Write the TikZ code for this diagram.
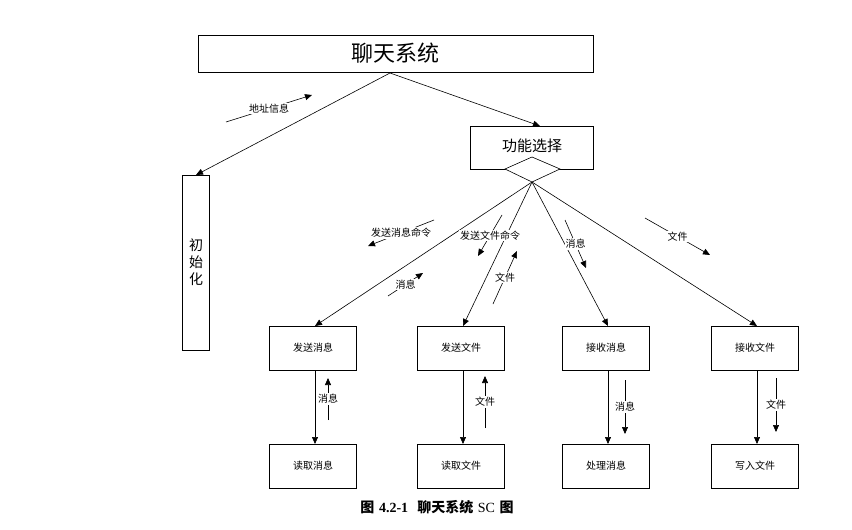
\documentclass[tikz,border=0pt]{standalone}
\usepackage{fontspec}
\newfontfamily\cjk{Noto Sans CJK SC}
\newfontfamily\lser{Liberation Serif}
\usetikzlibrary{arrows.meta}
\begin{document}
\begin{tikzpicture}[x=1pt,y=-1pt,
  box/.style={draw,thick,inner sep=0pt},
  arr/.style={-{Triangle[length=7pt,width=6pt]},line width=0.6pt},
  lbl/.style={font=\cjk\fontsize{10}{10}\selectfont,fill=white,inner sep=1pt}]
\useasboundingbox (0,0) rectangle (852,530);
\draw[box] (198,35) rectangle (593,72);
\node[font=\cjk\fontsize{22}{22}\selectfont] (t) at (395,53) {聊天系统};
\coordinate (tb) at (390,73);
\draw[box] (182,175) rectangle (209,350);
\node[font=\cjk\fontsize{14}{17}\selectfont,align=center] (init) at (196,262) {初\\始\\化};
\coordinate (initt) at (196,175);
\draw[box] (470,126) rectangle (593,169);
\node[font=\cjk\fontsize{15}{15}\selectfont] (fn) at (532,146) {功能选择};
\coordinate (fnt) at (540,126);
\draw[line width=0.6pt,fill=white] (532,157) -- (560,169) -- (532,182) -- (505,169) -- cycle;
\coordinate (d) at (532,182);
\draw[arr] (tb) -- (initt);
\draw[arr] (tb) -- (fnt);
\coordinate (a1) at (226,122); \coordinate (a2) at (312,95);
\draw[arr] (a1) -- node[lbl]{地址信息} (a2);
\foreach \n/\x/\t/\b in {r1/313/发送消息/读取消息, r2/461/发送文件/读取文件, r3/606/接收消息/处理消息, r4/755/接收文件/写入文件}{
  \draw[box] (\x-44,326) rectangle (\x+43,370);
  \node[font=\cjk\fontsize{10}{10}\selectfont] (\n) at (\x,348) {\t};
  \draw[box] (\x-44,444) rectangle (\x+43,488);
  \node[font=\cjk\fontsize{10}{10}\selectfont] (\n b) at (\x,466) {\b};
  \coordinate (\n t) at (\x+2,326);
  \coordinate (\n s) at (\x+2,370);
  \coordinate (\n e) at (\x+2,444);
  \draw[arr] (d) -- (\n t);
  \draw[arr] (\n s) -- (\n e);
}
\coordinate (u1) at (328,420); \coordinate (u2) at (328,378);
\draw[arr] (u1) -- node[lbl]{消息} (u2);
\coordinate (v1) at (485,428); \coordinate (v2) at (485,376);
\draw[arr] (v1) -- node[lbl]{文件} (v2);
\coordinate (w1) at (625,380); \coordinate (w2) at (625,434);
\draw[arr] (w1) -- node[lbl]{消息} (w2);
\coordinate (z1) at (776,378); \coordinate (z2) at (776,432);
\draw[arr] (z1) -- node[lbl]{文件} (z2);
\coordinate (p1) at (434,220); \coordinate (p2) at (368,246);
\draw[arr] (p1) -- node[lbl]{发送消息命令} (p2);
\coordinate (q1) at (502,215); \coordinate (q2) at (478,256);
\draw[arr] (q1) -- node[lbl]{发送文件命令} (q2);
\coordinate (s1) at (493,304); \coordinate (s2) at (517,251);
\draw[arr] (s1) -- node[lbl]{文件} (s2);
\coordinate (m1) at (388,296); \coordinate (m2) at (423,273);
\draw[arr] (m1) -- node[lbl]{消息} (m2);
\coordinate (n1) at (565,220); \coordinate (n2) at (586,268);
\draw[arr] (n1) -- node[lbl]{消息} (n2);
\coordinate (f1) at (645,218); \coordinate (f2) at (710,255);
\draw[arr] (f1) -- node[lbl]{文件} (f2);
\node[font=\fontsize{14}{14}\selectfont] (cap) at (437,507) {{\cjk\bfseries 图} {\lser\bfseries 4.2-1}\ \ {\cjk\bfseries 聊天系统} {\lser SC} {\cjk\bfseries 图}};
\end{tikzpicture}
\end{document}
